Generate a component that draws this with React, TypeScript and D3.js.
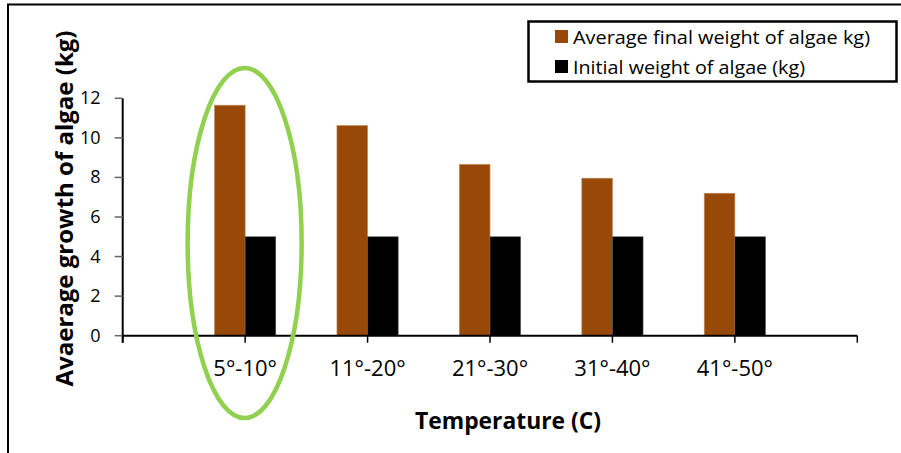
import React from "react";
import * as d3 from "d3";

// Temperature ranges and measured algae weights (kg)
const categories = ["5°-10°", "11°-20°", "21°-30°", "31°-40°", "41°-50°"];
const finalWeight = [11.65, 10.62, 8.66, 7.96, 7.2];
const initialWeight = [5, 5, 5, 5, 5];
const yTicks = [0, 2, 4, 6, 8, 10, 12];
const seriesNames = ["Average final weight of algae kg)", "Initial weight of algae (kg)"];
const seriesColors = ["#984807", "#000000"];

const W = 901;
const H = 453;
const FONT = "'Open Sans', 'Noto Sans', sans-serif";

export default function App() {
  const plotLeft = 122.7;
  const plotRight = 857.3;
  const y = d3.scaleLinear().domain([0, 12]).range([335.7, 98.3]);
  // one slot per category plus an empty slot at each end
  const x = d3.scaleLinear().domain([0, categories.length + 1]).range([plotLeft, plotRight]);
  const step = x(1) - x(0);
  const barW = step * 0.25;
  const slotTicks = d3.range(0, categories.length + 2);

  const hi = categories[0];
  const hiX = x(categories.indexOf(hi) + 1) - 2.5;

  return (
    <svg
      width={W}
      height={H}
      style={{ position: "absolute", left: 0, top: 0, background: "#fff" }}
      fontFamily={FONT}
    >
      {/* chart frame */}
      <rect x={8} y={4.5} width={W + 20} height={H + 20} fill="#fff" stroke="#000" strokeWidth={2} />

      {/* bars */}
      {categories.map((c, i) => {
        const cx = x(i + 1);
        return (
          <g key={c}>
            <rect
              x={cx - barW}
              y={y(finalWeight[i])}
              width={barW}
              height={y(0) - y(finalWeight[i])}
              fill={seriesColors[0]}
              stroke="#c08a5a"
              strokeWidth={0.7}
            />
            <rect
              x={cx}
              y={y(initialWeight[i])}
              width={barW}
              height={y(0) - y(initialWeight[i])}
              fill={seriesColors[1]}
              stroke="#555"
              strokeWidth={0.6}
            />
          </g>
        );
      })}

      {/* y axis */}
      <line x1={plotLeft} x2={plotLeft} y1={y(12)} y2={y(0) + 7} stroke="#000" strokeWidth={2} />
      {yTicks.map((t) => (
        <g key={t}>
          <line x1={plotLeft - 8} x2={plotLeft} y1={y(t)} y2={y(t)} stroke="#666" strokeWidth={1.5} />
          <text x={100.5} y={y(t) + 6} textAnchor="end" fontSize={18} fill="#000">
            {t}
          </text>
        </g>
      ))}

      {/* x axis */}
      <line x1={plotLeft} x2={plotRight} y1={y(0)} y2={y(0)} stroke="#000" strokeWidth={2} />
      {slotTicks.map((s) => (
        <line key={s} x1={x(s)} x2={x(s)} y1={y(0)} y2={y(0) + 7} stroke="#000" strokeWidth={1.5} />
      ))}
      {categories.map((c, i) => (
        <text key={c} x={x(i + 1)} y={376} textAnchor="middle" fontSize={22} fill="#000">
          {c}
        </text>
      ))}

      {/* axis titles */}
      <text
        x={508}
        y={429}
        textAnchor="middle"
        fontSize={23}
        fontWeight="bold"
        textLength={186}
        lengthAdjust="spacingAndGlyphs"
      >
        Temperature (C)
      </text>
      <text
        transform={`translate(73, ${(30 + 387) / 2}) rotate(-90)`}
        textAnchor="middle"
        fontSize={24}
        fontWeight="bold"
        textLength={356}
        lengthAdjust="spacingAndGlyphs"
      >
        Avaerage growth of algae (kg)
      </text>

      {/* highlight around the coolest range */}
      <ellipse cx={hiX + 2} cy={243} rx={57} ry={175} fill="none" stroke="#92d050" strokeWidth={4.5} />

      {/* legend */}
      <rect x={528.5} y={21.5} width={368} height={60} fill="#fff" stroke="#000" strokeWidth={2.5} />
      {seriesNames.map((n, i) => (
        <g key={n}>
          <rect x={555} y={30 + i * 30} width={13} height={13} fill={seriesColors[i]} />
          <text
            x={573}
            y={43.5 + i * 30}
            fontSize={19}
            fill="#000"
            textLength={i === 0 ? 297 : 232}
            lengthAdjust="spacingAndGlyphs"
          >
            {n}
          </text>
        </g>
      ))}
    </svg>
  );
}
